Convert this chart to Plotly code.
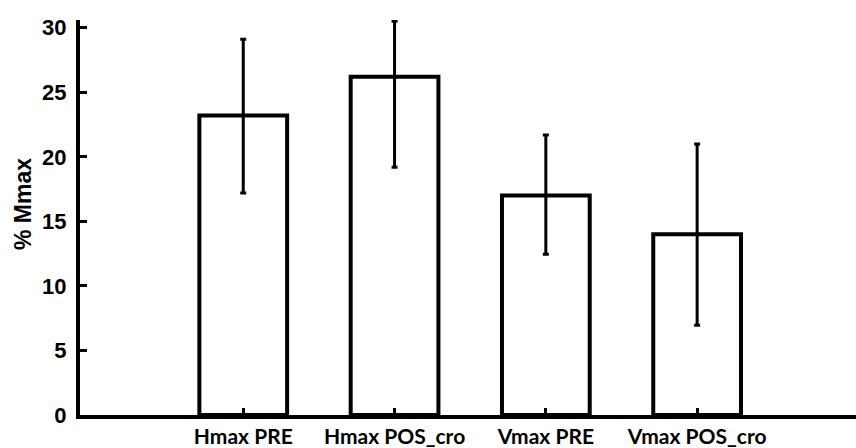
import plotly.graph_objects as go

categories = ["Hmax PRE", "Hmax POS_cro", "Vmax PRE", "Vmax POS_cro"]
means = [23.2, 26.2, 17.0, 14.0]
err_plus = [5.9, 4.3, 4.7, 7.0]
err_minus = [6.0, 7.0, 4.55, 7.05]
y_ticks = [0, 5, 10, 15, 20, 25, 30]

x_pos = list(range(len(categories)))

fig = go.Figure()
fig.add_trace(go.Bar(
    x=x_pos, y=means, width=0.58,
    marker=dict(color="white", line=dict(color="black", width=4)),
    error_y=dict(type="data", symmetric=False, array=err_plus, arrayminus=err_minus,
                 color="black", thickness=3, width=3),
))

fig.update_layout(
    width=856, height=448,
    margin=dict(l=80, r=0, t=20, b=33),
    paper_bgcolor="white", plot_bgcolor="white",
    showlegend=False,
    xaxis=dict(
        range=[-1.079, 4.05], tickmode="array", tickvals=x_pos, ticktext=categories,
        showgrid=False, zeroline=False, showline=True, linecolor="black", linewidth=4,
        ticks="inside", ticklen=7, tickwidth=3, tickcolor="black",
        ticklabelstandoff=0, automargin=False,
        tickfont=dict(family="Lato", size=21, color="black", weight="bold"),
    ),
    yaxis=dict(
        range=[0, 30.6], tickmode="array", tickvals=y_ticks,
        showgrid=False, zeroline=False, showline=True, linecolor="black", linewidth=4,
        ticks="inside", ticklen=7, tickwidth=3, tickcolor="black",
        ticklabelstandoff=5, automargin=False,
        tickfont=dict(family="Liberation Sans", size=22, color="black", weight="bold"),
    ),
    annotations=[dict(
        text="% Mmax", textangle=-90, xref="paper", yref="paper",
        x=-0.0735, y=0.534, xanchor="center", yanchor="middle", showarrow=False,
        font=dict(family="Liberation Sans", size=23, color="black", weight="bold"),
    )],
)

fig.write_html("out.html")
